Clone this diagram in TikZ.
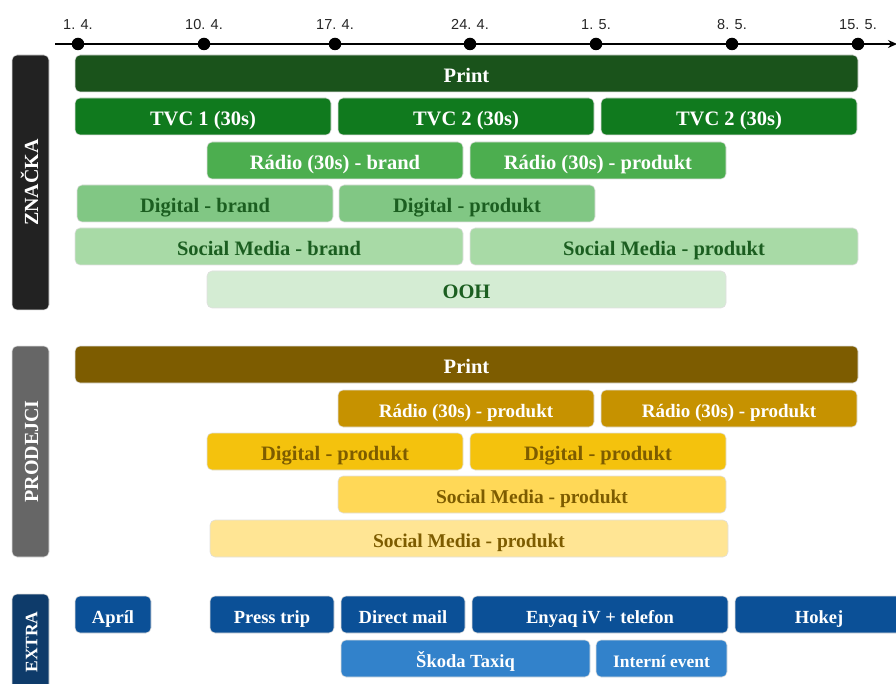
\documentclass[tikz,border=0pt]{standalone}
\usepackage{fontspec}
\setmainfont{Liberation Serif}
\newfontfamily\axisfont{Liberation Sans}
\usetikzlibrary{arrows.meta}
\definecolor{zprintc}{HTML}{1A531B}
\definecolor{ztvcc}{HTML}{107A1E}
\definecolor{zradc}{HTML}{4CAE4F}
\definecolor{zdigc}{HTML}{81C784}
\definecolor{zsocc}{HTML}{A8DAA6}
\definecolor{zoohc}{HTML}{D4ECD3}
\definecolor{ztxt}{HTML}{1B5E20}
\definecolor{pprintc}{HTML}{7D5C00}
\definecolor{pradc}{HTML}{C69200}
\definecolor{pdigc}{HTML}{F4C20D}
\definecolor{psocc}{HTML}{FFD857}
\definecolor{psoctc}{HTML}{FFE594}
\definecolor{ptxt}{HTML}{7D5C00}
\definecolor{eblc}{HTML}{0B5097}
\definecolor{elbc}{HTML}{3282CB}
\definecolor{zlab}{HTML}{222222}
\definecolor{plab}{HTML}{666666}
\definecolor{elab}{HTML}{0E3B6A}
\newcommand{\tk}[6]{\node[bar,#5,minimum width={#3pt-#2pt}] (#1) at ({(#2+#3)/2},{#4+18.5}) {#6};}
\begin{document}
\begin{tikzpicture}[x=1pt,y=-1pt,
  bar/.style={rectangle, rounded corners=5pt, inner sep=0pt, draw=white!88!black, line width=0.6pt,
    text height=18pt, text depth=0pt, minimum height=37pt,
    font=\fontsize{20.5}{20.5}\selectfont\bfseries},
  zprint/.style={fill=zprintc, text=white},
  ztvc/.style={fill=ztvcc, text=white},
  zrad/.style={fill=zradc, text=white},
  zdig/.style={fill=zdigc, text=ztxt},
  zsoc/.style={fill=zsocc, text=ztxt},
  zooh/.style={fill=zoohc, text=ztxt},
  pprint/.style={fill=pprintc, text=white},
  prad/.style={fill=pradc, text=white, font=\fontsize{19}{19}\selectfont\bfseries, text height=17.5pt},
  pdig/.style={fill=pdigc, text=ptxt},
  psoc/.style={fill=psocc, text=ptxt, font=\fontsize{19.5}{19.5}\selectfont\bfseries},
  psoct/.style={fill=psoctc, text=ptxt, font=\fontsize{19.5}{19.5}\selectfont\bfseries},
  ebl/.style={fill=eblc, text=white, font=\fontsize{18.5}{18.5}\selectfont\bfseries, text height=17.5pt},
  elb/.style={fill=elbc, text=white, font=\fontsize{18.5}{18.5}\selectfont\bfseries, text height=17.5pt},
  ei/.style={fill=elbc, text=white, font=\fontsize{17.5}{17.5}\selectfont\bfseries, text height=17pt},
  lab/.style={rectangle, rounded corners=5pt, inner sep=0pt, draw=white!88!black, line width=0.6pt,
    minimum height=37pt, text height=15pt, text depth=0pt, rotate=90, text=white,
    font=\fontsize{20}{20}\selectfont\bfseries},
  dot/.style={circle, fill=black, inner sep=0pt, minimum size=12.5pt},
  axlab/.style={font=\axisfont\fontsize{14.5}{14.5}\selectfont, text=black!85, inner sep=0pt}
]
\useasboundingbox (0,0) rectangle (896,684);
\clip (0,0) rectangle (896,684);
% axis
\coordinate (axs) at (55,44);
\coordinate (axe) at (897,44);
\draw[line width=1.4pt, -{Stealth[length=9pt,width=8pt]}] (axs) -- (axe);
\foreach \n/\x/\t in {d1/78/{1. 4.}, d2/204/{10. 4.}, d3/335/{17. 4.}, d4/470/{24. 4.}, d5/596/{1. 5.}, d6/732/{8. 5.}, d7/858/{15. 5.}}{
  \node[dot] (\n) at (\x,44) {};
  \node[axlab] (l\n) at (\x,24.5) {\t};
}
% labels
\node[lab, fill=zlab, minimum width=255pt] (zn) at (30.5,182.5) {ZNAČKA};
\node[lab, fill=plab, minimum width=211pt] (pr) at (30.5,451.5) {PRODEJCI};
\node[lab, fill=elab, minimum width=96pt, font=\fontsize{17.5}{17.5}\selectfont\bfseries, text height=13.5pt] (ex) at (30.5,642) {EXTRA};
% ZNACKA
\tk{zp}{75}{858}{55}{zprint}{Print}
\tk{tvca}{75}{331}{98}{ztvc}{TVC 1 (30s)}
\tk{tvcb}{338}{594}{98}{ztvc}{TVC 2 (30s)}
\tk{tvcc}{601}{857}{98}{ztvc}{TVC 2 (30s)}
\tk{zra}{207}{463}{142}{zrad}{Rádio (30s) - brand}
\tk{zrb}{470}{726}{142}{zrad}{Rádio (30s) - produkt}
\tk{zda}{77}{333}{185}{zdig}{Digital - brand}
\tk{zdb}{339}{595}{185}{zdig}{Digital - produkt}
\tk{zsa}{75}{463}{228}{zsoc}{Social Media - brand}
\tk{zsb}{470}{858}{228}{zsoc}{Social Media - produkt}
\tk{zo}{207}{726}{271}{zooh}{OOH}
% PRODEJCI
\tk{pp}{75}{858}{346}{pprint}{Print}
\tk{pra}{338}{594}{390}{prad}{Rádio (30s) - produkt}
\tk{prb}{601}{857}{390}{prad}{Rádio (30s) - produkt}
\tk{pda}{207}{463}{433}{pdig}{Digital - produkt}
\tk{pdb}{470}{726}{433}{pdig}{Digital - produkt}
\tk{psa}{338}{726}{476}{psoc}{Social Media - produkt}
\tk{psb}{210}{728}{520}{psoct}{Social Media - produkt}
% EXTRA
\tk{ea}{75}{151}{596}{ebl}{Apríl}
\tk{eb}{210}{334}{596}{ebl}{Press trip}
\tk{ec}{341}{465}{596}{ebl}{Direct mail}
\tk{ed}{472}{728}{596}{ebl}{Enyaq iV + telefon}
\tk{ee}{735}{903}{596}{ebl}{Hokej}
\tk{ef}{341}{590}{640}{elb}{Škoda Taxiq}
\tk{eg}{596}{727}{640}{ei}{Interní event}
\end{tikzpicture}
\end{document}
